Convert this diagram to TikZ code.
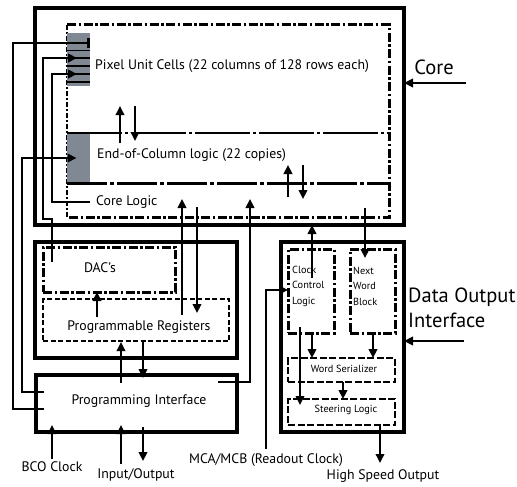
\documentclass[tikz,border=0pt]{standalone}
\usepackage{fontspec}
\setmainfont{PT Sans}
\usetikzlibrary{positioning,arrows.meta,calc}
\definecolor{cellgray}{RGB}{128,137,147}

\begin{document}
\begin{tikzpicture}[x=1pt, y=-1pt,
    % boxes
    blk/.style={rectangle, inner sep=0pt, outer sep=0pt},
    heavy/.style={blk, draw=black, line width=3.4pt},
    ddline/.style={line width=3pt, dash pattern=on 9pt off 2.5pt on 2.5pt off 2.5pt},
    ddbox/.style={blk, draw=black, ddline},
    dbox/.style={blk, draw=black, line width=1.8pt, dash pattern=on 5pt off 2.5pt},
    sbox/.style={blk, draw=black, line width=2.6pt, dash pattern=on 7pt off 2.5pt},
    cellblk/.style={blk, fill=cellgray},
    % text
    lbl/.style={font=\fontsize{13.8}{15}\selectfont, inner sep=0pt},
    smalltxt/.style={font=\fontsize{10.3}{15.5}\selectfont, inner sep=0pt, align=left},
    bigtxt/.style={font=\fontsize{20.5}{25}\selectfont, inner sep=0pt, align=left},
    % connectors
    wire/.style={line width=2.8pt},
    lite/.style={line width=1.8pt},
    arr/.style={-{Triangle[length=9pt,width=8.5pt]}}
]
\useasboundingbox (0,0) rectangle (517,487);

% Core
\node[heavy, minimum width=369pt, minimum height=217pt] (core) at (219.5,116.5) {};
\node[blk, minimum width=322pt, minimum height=192pt] (corein) at (228,121) {};
\draw[ddline] (corein.north west) -- (corein.north east) -- (corein.south east) -- (corein.south west);
\draw[lite, dash pattern=on 5pt off 2pt on 2pt off 2pt] (corein.south west) -- (corein.north west);

% Pixel cells
\node[cellblk, minimum width=23pt, minimum height=53pt] (pix) at (78.5,59.5) {};
\foreach \r in {50.5,66,82}
    \draw[line width=1.4pt] (pix.west |- 0,\r) -- (pix.east |- 0,\r);
\draw[line width=1.4pt] (pix.west |- 0,58) -- (pix.east |- 0,58);
\draw[line width=1.4pt] (pix.west |- 0,74) -- (pix.east |- 0,74);
\node[lbl, anchor=west] (pixtxt) at (95,66) {Pixel Unit Cells (22 columns of 128 rows each)};

% End-of-column logic
\node[cellblk, minimum width=23pt, minimum height=50pt] (eoc) at (78.5,158) {};
\draw[lite, dash pattern=on 55pt off 3pt on 3pt off 3pt] (eoc.north west) -- (eoc.north west -| corein.east);
\draw[line width=3pt, dash pattern=on 40pt off 3pt on 4pt off 3pt] (eoc.south west) -- (eoc.south west -| corein.east);
\node[lbl, anchor=west] (eoctxt) at (97,155) {End-of-Column logic (22 copies)};
\node[lbl, anchor=west] (cltxt) at (96,202) {Core Logic};

\node[bigtxt] (corelbl) at (434,67) {Core};
\coordinate (corefeed) at (466,83);
\draw[wire, arr] (corefeed) -- (corefeed -| core.east);

% DAC's and registers
\node[heavy, minimum width=202pt, minimum height=116pt] (cfg) at (136,300) {};
\node[ddbox, minimum width=132pt, minimum height=45pt] (dac) at (109,269.5) {};
\node[dbox, minimum width=186pt, minimum height=42pt] (regs) at (136,320) {};
\node[lbl] (dactxt) at (100,268) {DAC's};
\node[lbl] (regtxt) at (139,327) {Programmable Registers};

% Programming interface
\node[heavy, minimum width=201pt, minimum height=57pt] (pif) at (136.5,403.5) {};
\node[lbl] (piftxt) at (139,401) {Programming Interface};

% Data output interface
\node[heavy, minimum width=123pt, minimum height=190pt] (dout) at (342.5,337) {};
\node[ddbox, minimum width=46pt, minimum height=84pt] (ccl) at (311,291) {};
\node[ddbox, minimum width=45pt, minimum height=84pt] (nwb) at (372.5,291) {};
\node[sbox, minimum width=107pt, minimum height=24pt] (wser) at (341.5,370) {};
\node[sbox, minimum width=107pt, minimum height=26pt] (steer) at (341.5,412) {};
\node[smalltxt, anchor=west] (ccltxt) at (292,286) {Clock\\Control\\Logic};
\node[smalltxt, anchor=west] (nwbtxt) at (353,286) {Next\\Word\\Block};
\node[smalltxt] (wsertxt) at (344,369) {Word Serializer};
\node[smalltxt] (steertxt) at (346,410) {Steering Logic};
\node[bigtxt, anchor=west] (dolbl) at (408,308) {Data Output\\Interface};
\coordinate (dofeed) at (464,341);
\draw[wire, arr] (dofeed) -- (dofeed -| dout.east);

% Left side wiring
\draw[wire, -{Bar[width=10pt]}] ([xshift=8pt]pif.west |- 0,409) -| (13,43) -- (pix.east |- 0,43);
\draw[wire, arr] ([xshift=8pt]pif.west |- 0,392) -| (22,158) -- ([xshift=-2pt]eoc.center);
\coordinate (dacfeed) at (52,262);
\draw[wire, arr] (dacfeed) -- (52,219) -| (43,58) -- ([xshift=10pt]pix.west |- 0,58);
\draw[wire, arr] ([xshift=-6pt]cltxt.west) -| (52,74) -- ([xshift=10pt]pix.west |- 0,74);

% Inside the core
\draw[lite, arr] ([yshift=-10pt]eoc.north -| 120,0) -- ++(0,-37);
\draw[lite, arr] ([yshift=27pt]eoc.north -| 135,0) -- ++(0,35);
\draw[wire, arr] ([yshift=-14pt]eoc.south -| 288,0) -- ++(0,-32);
\draw[wire, arr] ([yshift=18pt]eoc.south -| 303,0) -- ++(0,34);

% Core <-> registers and interface
\draw[wire, arr] ([yshift=-16pt]regs.north -| 182,0) -- (182,199);
\draw[wire, arr] (197,207) -- ([yshift=-14pt]regs.north -| 197,0);
\draw[wire, arr] ([xshift=-19pt]pif.north east |- 0,382) -| (250,199);
\draw[wire, arr] ([yshift=-18pt]regs.north -| 97,0) -- (dac.south -| 97,0);
\draw[lite, arr] ([yshift=-8pt]pif.north -| 121,0) -- ([yshift=-1pt]regs.south -| 121,0);
\draw[wire, arr] (regs.south -| 143,0) -- ([yshift=-3pt]pif.north -| 143,0);

% Programming interface pins
\coordinate (bco) at (52,459);
\draw[lite, arr] (bco) -- ([yshift=7pt]pif.south -| bco);
\node[lbl, below=2pt of bco] (bcolbl) {BCO Clock};
\coordinate (ioin) at (121,464);
\coordinate (ioout) at (143,461);
\draw[lite, arr] (ioin) -- ([yshift=7pt]pif.south -| ioin);
\draw[wire, arr] ([yshift=5pt]pif.south -| ioout) -- (ioout);
\node[lbl] (iolbl) at (136,475) {Input/Output};

% Data output wiring
\coordinate (mca) at (266,449);
\draw[wire, arr] (mca) |- (ccl.west |- 0,290);
\node[lbl, below=4pt of mca] (mcalbl) {MCA/MCB (Readout Clock)};
\draw[wire, arr] ([yshift=-29pt]ccl.north -| 312,0) -- (core.south -| 312,0);
\draw[wire, arr] (365,208) -- ([yshift=-9pt]nwb.north -| 365,0);
\draw[wire, arr] (ccl.south -| 312,0) -- (wser.north -| 312,0);
\draw[wire, arr] (nwb.south -| 373,0) -- (wser.north -| 373,0);
\draw[wire, arr] (wser.south -| 343,0) -- (steer.north -| 343,0);
\draw[lite, arr] ([yshift=6pt]ccl.south -| 300,0) -- ([yshift=-6pt]steer.north -| 300,0);
\coordinate (hso) at (380,463);
\draw[lite, arr] (steer.south -| hso) -- (hso);
\node[lbl] (hsolbl) at (383,476) {High Speed Output};

\end{tikzpicture}
\end{document}
